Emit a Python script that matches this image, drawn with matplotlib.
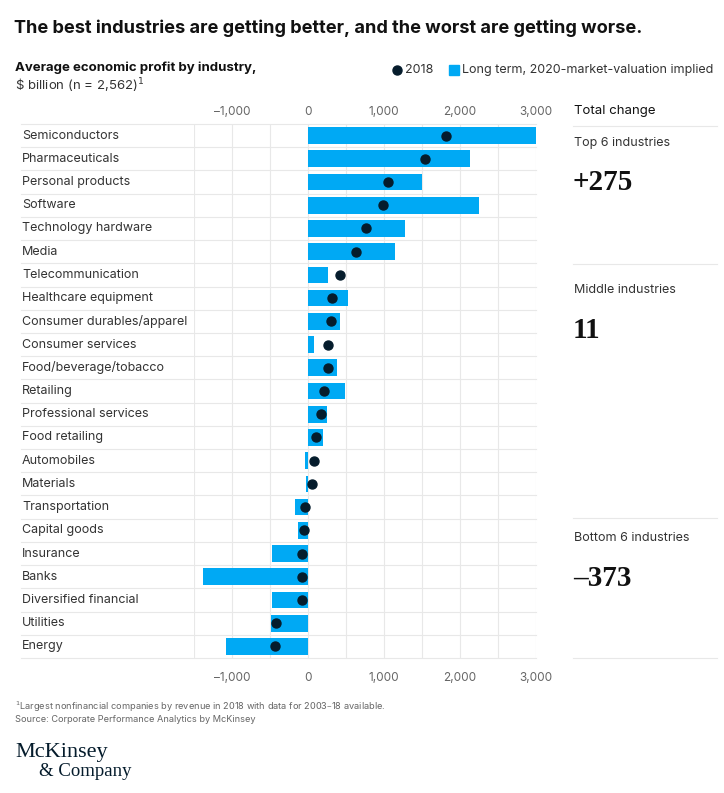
import matplotlib
matplotlib.use("Agg")
import matplotlib.pyplot as plt
from matplotlib.lines import Line2D

industries = [
    "Semiconductors", "Pharmaceuticals", "Personal products", "Software",
    "Technology hardware", "Media", "Telecommunication", "Healthcare equipment",
    "Consumer durables/apparel", "Consumer services", "Food/beverage/tobacco",
    "Retailing", "Professional services", "Food retailing", "Automobiles",
    "Materials", "Transportation", "Capital goods", "Insurance", "Banks",
    "Diversified financial", "Utilities", "Energy",
]
long_term = [3000, 2130, 1500, 2250, 1280, 1150, 265, 520, 425, 85, 378, 492,
             255, 193, -44, -31, -167, -136, -474, -1380, -479, -483, -1080]
profit_2018 = [1810, 1533, 1058, 988, 760, 637, 422, 312, 299, 268, 268, 211,
               167, 101, 83, 57, -40, -48, -75, -75, -79, -417, -435]

tick_values = [-1000, 0, 1000, 2000, 3000]
tick_labels = ["–1,000", "0", "1,000", "2,000", "3,000"]

groups = ["Top 6 industries", "Middle industries", "Bottom 6 industries"]
group_totals = ["+275", "11", "–373"]

BLUE = "#00A9F4"
NAVY = "#051C2C"
GRID = "#E8E8E8"
TXT = "#333333"

W, H = 724, 793
fig = plt.figure(figsize=(W / 100, H / 100), dpi=100)
plt.rcParams["font.family"] = ["Inter", "DejaVu Sans"]


def fx(px):
    return px / W


def fy(py):
    return 1 - py / H


# main axes
left, right, top, bottom = 194, 536, 124, 658
ax = fig.add_axes([fx(left), fy(bottom), (right - left) / W, (bottom - top) / H])
ypos = list(range(len(industries)))
ax.barh(ypos, long_term, height=0.72, color=BLUE, zorder=2)
ax.scatter(profit_2018, ypos, s=42, color=NAVY, zorder=3)
ax.set_xlim(-1500, 3000)
ax.set_ylim(len(industries) - 0.5, -0.5)

for v in range(-1500, 3001, 500):
    ax.axvline(v, color=GRID, lw=0.8, zorder=0)
for b in [i - 0.5 for i in range(len(industries) + 1)]:
    ax.plot([-(left - 21) / (right - left), 1], [b, b], color=GRID, lw=0.8,
            transform=ax.get_yaxis_transform(), clip_on=False, zorder=0)

ax.set_xticks(tick_values)
ax.set_xticklabels(tick_labels)
ax.tick_params(axis="x", length=0, labelsize=8.5, labelcolor="#666666", pad=10)
ax.set_yticks([])
for s in ax.spines.values():
    s.set_visible(False)

top_ax = ax.secondary_xaxis("top")
top_ax.set_xticks(tick_values)
top_ax.set_xticklabels(tick_labels)
top_ax.tick_params(axis="x", length=0, labelsize=8.5, labelcolor="#666666", pad=4)
top_ax.spines["top"].set_visible(False)

for i, name in enumerate(industries):
    ax.text(-(left - 22) / (right - left), i, name, transform=ax.get_yaxis_transform(),
            ha="left", va="center", fontsize=9, color=TXT)

# titles
fig.text(fx(14), fy(28), "The best industries are getting better, and the worst are getting worse.",
         fontsize=13.1, fontweight="bold", color="#111111", va="center")
fig.text(fx(15), fy(68), "Average economic profit by industry,", fontsize=9.5,
         fontweight="bold", color="#111111", va="center")
fig.text(fx(15), fy(86), "\\$ billion (n = 2,562)$^{1}$", fontsize=9.5, color=TXT, va="center")

# legend
fig.add_artist(Line2D([fx(397)], [fy(70)], marker="o", markersize=6.5, color=NAVY, lw=0))
fig.text(fx(405), fy(70), "2018", fontsize=9, color=TXT, va="center")
fig.add_artist(Line2D([fx(454)], [fy(70)], marker="s", markersize=6.5, color=BLUE, lw=0))
fig.text(fx(462), fy(70), "Long term, 2020-market-valuation implied", fontsize=9,
         color=TXT, va="center")

# right panel
fig.text(fx(574), fy(111), "Total change", fontsize=9.5, color="#111111", va="center")
for ly in [126, 264, 518, 658]:
    fig.add_artist(Line2D([fx(573), fx(717)], [fy(ly), fy(ly)], color=GRID, lw=0.8))
for ly, name, total in zip([143, 290, 538], groups, group_totals):
    fig.text(fx(574), fy(ly), name, fontsize=9, color=TXT, va="center")
    fig.text(fx(573), fy(ly + 40), total, fontsize=21, fontweight="bold",
             family="Liberation Serif", color="#111111", va="center")

# footnotes
fig.text(fx(15), fy(707), "$^{1}$Largest nonfinancial companies by revenue in 2018 with data for 2003–18 available.",
         fontsize=6.65, color="#666666", va="center")
fig.text(fx(15), fy(719), "Source: Corporate Performance Analytics by McKinsey",
         fontsize=6.65, color="#666666", va="center")
fig.text(fx(15), fy(752), "McKinsey", fontsize=16, family="Liberation Serif", color=NAVY, va="center")
fig.text(fx(39), fy(771), "& Company", fontsize=13.5, family="Liberation Serif", color=NAVY, va="center")

fig.savefig("out.png", dpi=100, facecolor="white")
